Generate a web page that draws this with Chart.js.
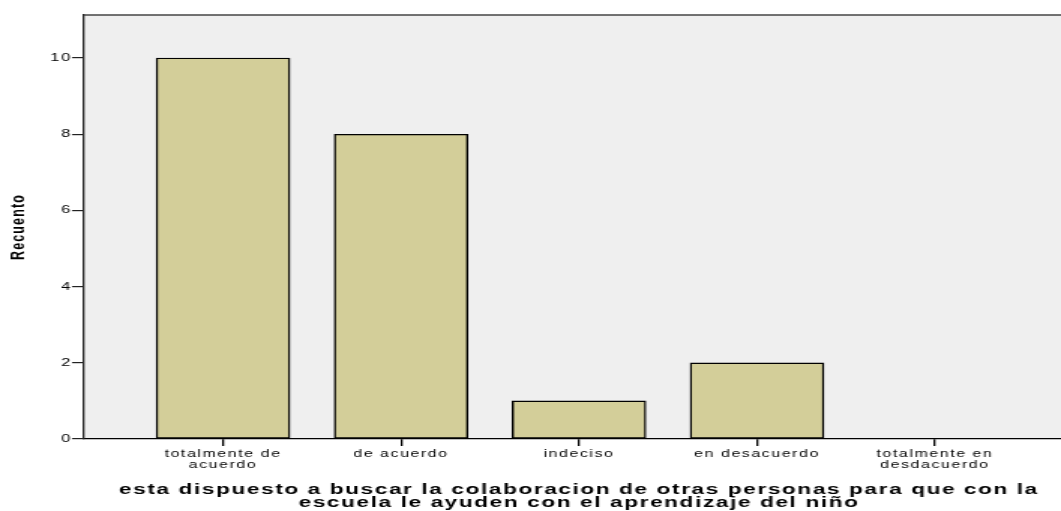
<!DOCTYPE html>
<html>
<head>
<meta charset="utf-8">
<script src="https://cdn.jsdelivr.net/npm/chart.js@4/dist/chart.umd.min.js"></script>
<style>
  html, body { margin: 0; padding: 0; background: #fff; }
</style>
</head>
<body>
<!-- the source picture is an SPSS chart stretched sideways, so the canvas is too -->
<canvas id="chart" width="707" height="511" style="display:block;width:1061px;height:511px"></canvas>
<script>
// data
const categories = [['totalmente de', 'acuerdo'], 'de acuerdo', 'indeciso', 'en desacuerdo', ['totalmente en', 'desdacuerdo']];
const counts = [10, 8, 1, 2, 0];
const yTicks = [0, 2, 4, 6, 8, 10];
const xTitle = ['esta dispuesto a buscar la colaboracion de otras personas para que con la', 'escuela le ayuden con el aprendizaje del niño'];
const yTitle = 'Recuento';

const FONT = '"Liberation Sans", Arial, Helvetica, sans-serif';

// background, frame line, spacing of the letters and the x title
const spssFrame = {
    id: 'spssFrame',
    beforeDraw(chart) {
        const { ctx, chartArea: a } = chart;
        ctx.letterSpacing = '1.1px';
        ctx.save();
        ctx.fillStyle = '#efefef';
        ctx.fillRect(a.left, a.top, a.right - a.left, a.bottom - a.top);
        ctx.restore();
    },
    afterDraw(chart) {
        const { ctx, chartArea: a } = chart;
        ctx.save();
        ctx.strokeStyle = '#444';
        ctx.lineWidth = 1.5;
        ctx.beginPath();
        ctx.moveTo(a.left, a.top);
        ctx.lineTo(a.right, a.top);
        ctx.stroke();

        ctx.fillStyle = '#000';
        ctx.font = 'bold 15px ' + FONT;
        ctx.textAlign = 'center';
        ctx.textBaseline = 'middle';
        const cx = chart.scales.x.getPixelForValue(2);
        xTitle.forEach(function (line, i) {
            ctx.fillText(line, cx, 490 + i * 13);
        });
        ctx.restore();
        ctx.letterSpacing = '0px';
    }
};

const canvas = document.getElementById('chart');
new Chart(canvas.getContext('2d'), {
    type: 'bar',
    data: {
        datasets: [{
            data: categories.map(function (c, i) { return { x: i, y: counts[i] }; }),
            backgroundColor: '#d3ce99',
            borderColor: '#000',
            borderWidth: 1.4,
            borderSkipped: false,
            barThickness: 89
        }]
    },
    options: {
        responsive: false,
        devicePixelRatio: 1,
        animation: false,
        layout: { padding: { top: 15, left: 0, right: 0, bottom: 0 } },
        plugins: {
            legend: { display: false },
            tooltip: { enabled: false }
        },
        scales: {
            x: {
                type: 'linear',
                offset: false,
                min: -0.781,
                max: 4.708,
                afterBuildTicks: function (scale) {
                    scale.ticks = categories.map(function (c, i) { return { value: i }; });
                },
                afterFit: function (scale) { scale.height = 72; },
                grid: { offset: false, drawOnChartArea: false, drawTicks: true, tickLength: 7, color: '#000', lineWidth: 1.3 },
                border: { display: true, color: '#000', width: 1.2 },
                ticks: {
                    autoSkip: false,
                    maxRotation: 0,
                    minRotation: 0,
                    padding: 3,
                    color: '#000',
                    font: { family: FONT, size: 10.5, lineHeight: 1 },
                    callback: function (value) { return categories[value]; }
                }
            },
            y: {
                min: 0,
                max: 11.13,
                afterBuildTicks: function (scale) {
                    scale.ticks = yTicks.map(function (v) { return { value: v }; });
                },
                afterFit: function (scale) { scale.width = 56; },
                grid: { drawOnChartArea: false, drawTicks: true, tickLength: 8, color: '#222', lineWidth: 1.2 },
                border: { display: true, color: '#222', width: 1.3 },
                ticks: {
                    padding: 0,
                    color: '#000',
                    font: { family: FONT, size: 11 }
                },
                title: {
                    display: true,
                    text: yTitle,
                    color: '#000',
                    padding: { top: 5, bottom: 0 },
                    font: { family: FONT, size: 12.5, weight: 'bold' }
                }
            }
        }
    },
    plugins: [spssFrame]
});
</script>
</body>
</html>
